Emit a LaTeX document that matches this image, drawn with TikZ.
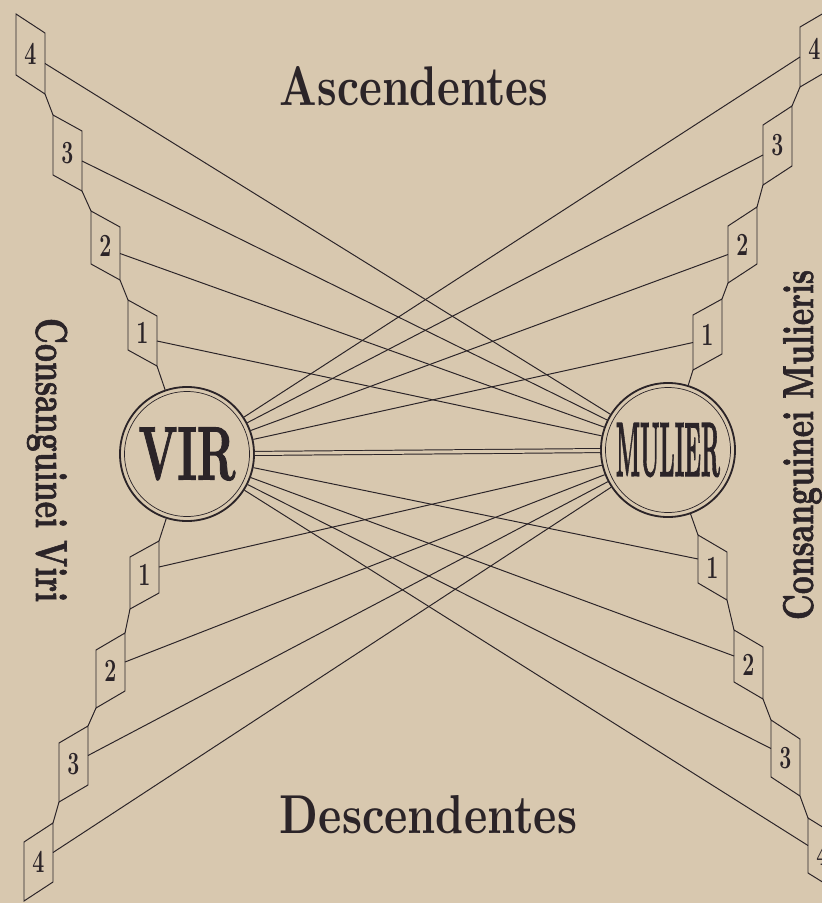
\documentclass[tikz,border=0pt]{standalone}
\usepackage{fontspec}
\usepackage{xcolor}
\usepackage{graphicx}
\usepackage{tikz}
\usetikzlibrary{calc,positioning}
\newfontfamily\heavyfont{lmroman10-bold}[Extension=.otf,FakeBold=1.6]
\definecolor{paper}{HTML}{D8C8AF}
\definecolor{ink}{HTML}{2B2428}

\begin{document}
\begin{tikzpicture}[x=0.025cm,y=-0.025cm,
    link/.style={draw=ink,line width=0.7pt},
    ring/.style={circle,draw=ink,line width=1.3pt,minimum size=3.35cm,inner sep=0pt,text=ink,font=\heavyfont},
    inring/.style={draw=ink,line width=0.5pt},
    numlabel/.style={inner sep=0pt,text=ink,font=\fontsize{23}{23}\selectfont\bfseries},
    heading/.style={inner sep=0pt,anchor=base,text=ink,font=\bfseries},
    side/.style={heading,font=\heavyfont},
    pics/rung/.style n args={3}{code={
        \draw[link] (0,0) coordinate (-tl) -- (29,#2) coordinate (-tr)
            -- (29,#1+#2) coordinate (-br) -- (0,#1) coordinate (-bl) -- cycle;
        \coordinate (-l) at (0,#1/2);
        \coordinate (-r) at (29,#2+#1/2);
        \node[numlabel] (-n) at (14.5,#2/2+#1/2) {\scalebox{0.66}[1]{#3}};
    }}]
    \useasboundingbox (0,0) rectangle (822,903);
    \fill[paper] (0,0) rectangle (822,903);
    \clip (0,0) rectangle (822,903);

    \node[ring] (VIR) at (187,454) {\resizebox{2.425cm}{1.3cm}{VIR}};
    \node[ring] (MULIER) at (668,450) {\resizebox{2.6cm}{1.325cm}{MULIER}};
    \draw[inring] (VIR.center) circle[radius=62.5];
    \draw[inring] (MULIER.center) circle[radius=62.5];

    \pic (va4) at (16,14) {rung={61}{19}{4}};
    \pic (va3) at (53,115) {rung={60}{16}{3}};
    \pic (va2) at (91,211) {rung={53}{16}{2}};
    \pic (va1) at (128,300) {rung={50}{16}{1}};
    \pic (vd1) at (130,557) {rung={52}{-16}{1}};
    \pic (vd2) at (96,650) {rung={58}{-17}{2}};
    \pic (vd3) at (59,743) {rung={59}{-17}{3}};
    \pic (vd4) at (24,842) {rung={59}{-19}{4}};
    \pic (ma4) at (800,27) {rung={60}{-17}{4}};
    \pic (ma3) at (763,125) {rung={60}{-19}{3}};
    \pic (ma2) at (728,226) {rung={57}{-19}{2}};
    \pic (ma1) at (693,315) {rung={55}{-16}{1}};
    \pic (md1) at (698,535) {rung={48}{17}{1}};
    \pic (md2) at (734,630) {rung={52}{17}{2}};
    \pic (md3) at (771,720) {rung={57}{19}{3}};
    \pic (md4) at (808,818) {rung={55}{18}{4}};

    \draw[link] (va4-br) -- (va3-tl) (va3-br) -- (va2-tl) (va2-br) -- (va1-tl) (va1-br) -- (VIR);
    \draw[link] (VIR) -- (vd1-tr) (vd1-bl) -- (vd2-tr) (vd2-bl) -- (vd3-tr) (vd3-bl) -- (vd4-tr);
    \draw[link] (MULIER) -- (ma1-bl) (ma1-tr) -- (ma2-bl) (ma2-tr) -- (ma3-bl) (ma3-tr) -- (ma4-bl);
    \draw[link] (MULIER) -- (md1-tl) (md1-br) -- (md2-tl) (md2-br) -- (md3-tl) (md3-br) -- (md4-tl);

    \foreach \i in {1,...,4} {
        \draw[link] (va\i-r) -- (MULIER);
        \draw[link] (vd\i-r) -- (MULIER);
        \draw[link] (ma\i-l) -- (VIR);
        \draw[link] (md\i-l) -- (VIR);
    }
    \draw[link,double=paper,double distance=2.2pt] (VIR) -- (MULIER);

    \node[heading] (asc) at (414,105) {\resizebox{6.7cm}{0.975cm}{Ascendentes}};
    \node[heading] (desc) at (428.5,833) {\resizebox{7.425cm}{0.95cm}{Descendentes}};
    \node[side,rotate=-90] (viri) at (36,460) {\resizebox{7.1cm}{0.78cm}{Consanguinei Viri}};
    \node[side,rotate=90] (mulieris) at (813,445) {\resizebox{8.75cm}{0.75cm}{Consanguinei Mulieris}};
\end{tikzpicture}
\end{document}
